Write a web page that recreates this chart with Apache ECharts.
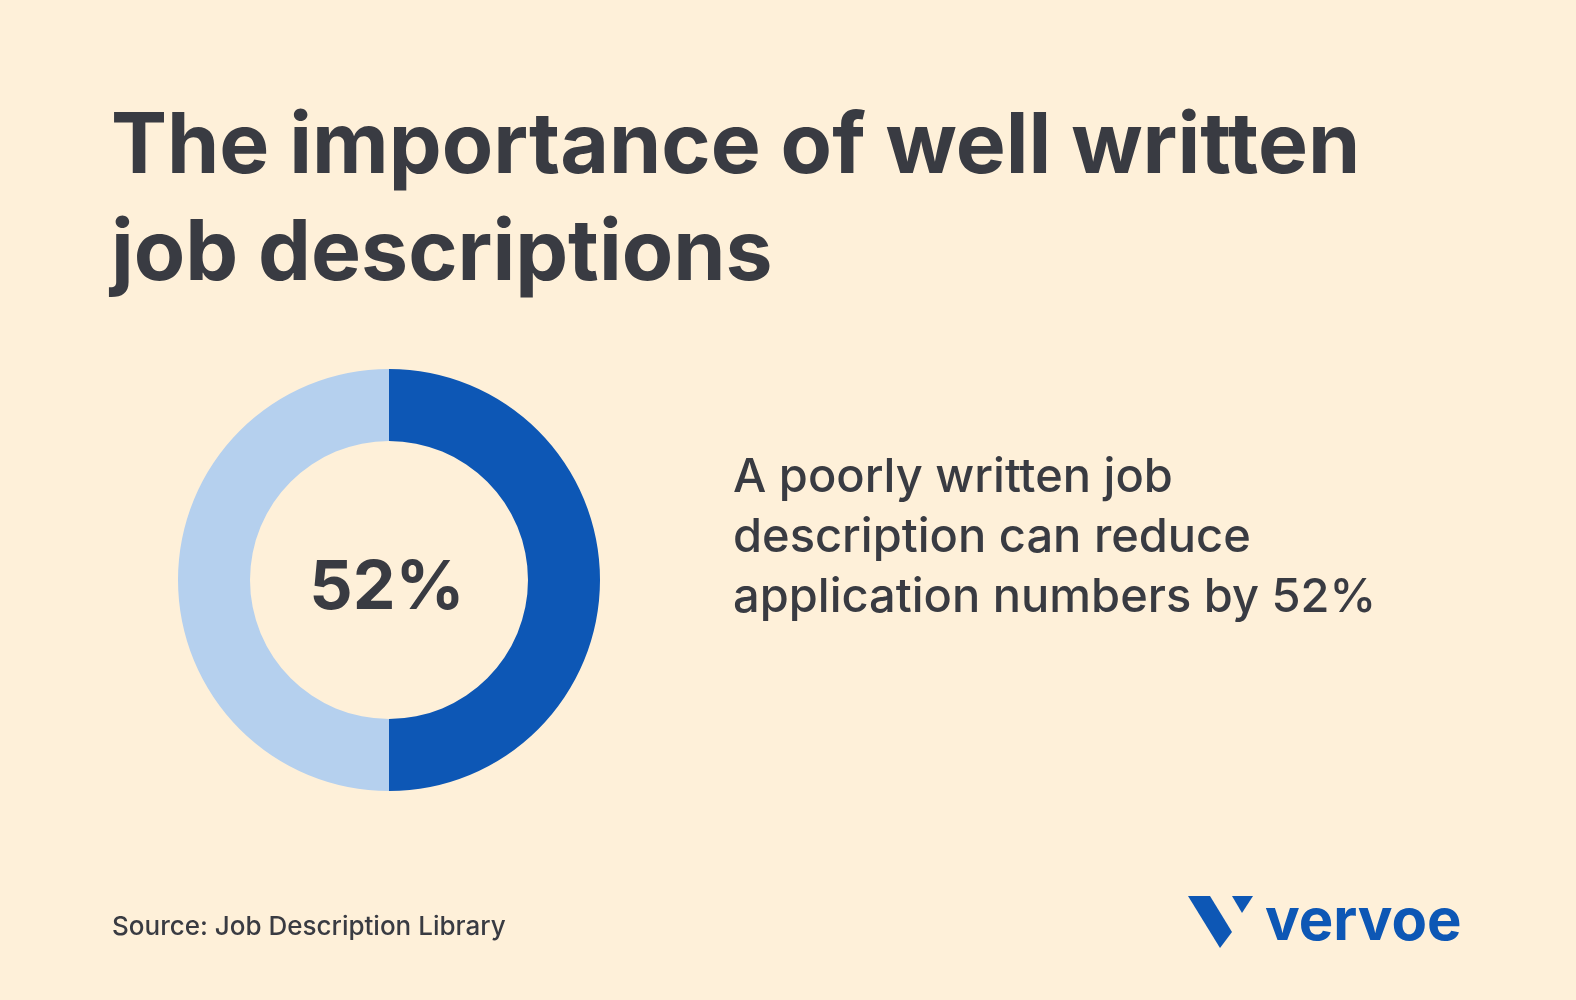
<!DOCTYPE html>
<html>
<head>
<meta charset="utf-8">
<script src="https://cdn.jsdelivr.net/npm/echarts@6/dist/echarts.min.js"></script>
<style>
html,body{margin:0;padding:0;background:#FEF0D9;}
#chart{width:1576px;height:1000px;}
</style>
</head>
<body>
<div id="chart"></div>
<script>
const categories = ["Reduced applications", "Remaining"];
const values = [50, 50];
const centerLabel = "52%";
const titleLines = ["The importance of well written", "job descriptions"];
const noteLines = ["A poorly written job", "description can reduce", "application numbers by 52%"];
const sourceText = "Source: Job Description Library";
const brandText = "vervoe";

const TEXT = "#393B42";
const DARK = "#0D57B5";
const LIGHT = "#B5D0EE";
const FONT = "Inter, 'Noto Sans', sans-serif";

const chart = echarts.init(document.getElementById('chart'));

const graphics = [];
titleLines.forEach((t, i) => {
  graphics.push({type:'text', x:111, y:148 + i*107,
    style:{text:t, fill:TEXT, font:"700 84px " + FONT, verticalAlign:'middle', align:'left'}});
});
noteLines.forEach((t, i) => {
  graphics.push({type:'text', x:733, y:478 + i*60,
    style:{text:t, fill:TEXT, font:"500 47px " + FONT, verticalAlign:'middle', align:'left'}});
});
graphics.push({type:'text', x:112, y:927,
  style:{text:sourceText, fill:TEXT, font:"500 26px " + FONT, verticalAlign:'middle', align:'left'}});
graphics.push({type:'text', x:1265, y:923,
  style:{text:brandText, fill:DARK, font:"700 58px " + FONT, verticalAlign:'middle', align:'left'}});
graphics.push({type:'polygon', shape:{points:[[1188,896],[1210,896],[1232,932],[1220,948]]}, style:{fill:DARK}});
graphics.push({type:'polygon', shape:{points:[[1232,896],[1253,896],[1242,913]]}, style:{fill:DARK}});

chart.setOption({
  backgroundColor: '#FEF0D9',
  animation: false,
  graphic: graphics,
  series: [{
    type: 'pie',
    center: [389, 580],
    radius: [139, 211],
    startAngle: 90,
    clockwise: true,
    silent: true,
    label: {show: false},
    labelLine: {show: false},
    itemStyle: {borderWidth: 0},
    data: categories.map((c, i) => ({name: c, value: values[i], itemStyle: {color: i === 0 ? DARK : LIGHT}}))
  }, {
    type: 'pie',
    center: [387, 589],
    radius: [0, 1],
    silent: true,
    data: [{value: 1, name: centerLabel, itemStyle:{color:'transparent'}}],
    label: {show: true, position: 'center', formatter: centerLabel,
      color: TEXT, fontFamily: FONT, fontWeight: 700, fontSize: 68},
    labelLine: {show: false}
  }]
});
</script>
</body>
</html>
